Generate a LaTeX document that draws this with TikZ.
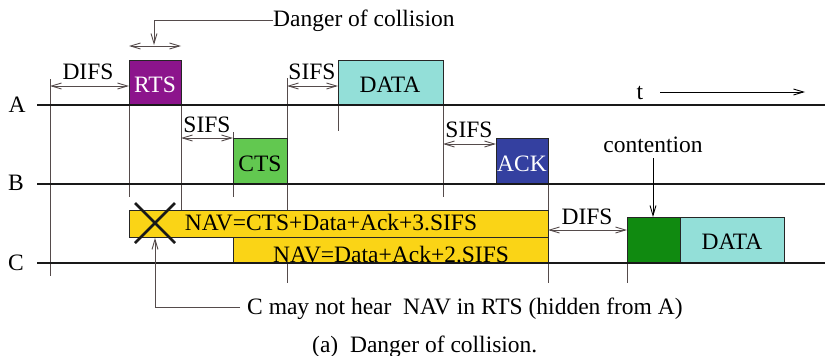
\documentclass[tikz,border=0pt]{standalone}
\usepackage{fontspec}
\setmainfont{Liberation Serif}
\usetikzlibrary{arrows.meta}
\definecolor{rtscol}{RGB}{140,20,140}
\definecolor{ctscol}{RGB}{98,200,80}
\definecolor{datacol}{RGB}{147,223,216}
\definecolor{ackcol}{RGB}{52,64,160}
\definecolor{navcol}{RGB}{250,212,22}
\definecolor{gcol}{RGB}{16,138,16}
\definecolor{vgrey}{RGB}{85,75,75}
\begin{document}
\begin{tikzpicture}[x=1pt,y=-1pt,
  every node/.style={font=\fontsize{23.5}{26}\selectfont, inner sep=0pt},
  box/.style={draw=black!85, line width=0.9pt, anchor=north west, inner sep=0pt},
  tline/.style={line width=2.6pt, draw=black!90},
  vl/.style={line width=1pt, draw=vgrey},
  dimarrow/.style={line width=0.9pt, draw=vgrey, {Straight Barb[length=10pt,width=6pt]}-{Straight Barb[length=10pt,width=6pt]}},
  onearrow/.style={line width=0.9pt, draw=vgrey, -{Straight Barb[length=10pt,width=6pt]}},
  lbl/.style={anchor=base}
]
\useasboundingbox (0,0) rectangle (825,356);

% vertical time markers
\draw[vl] (50,79) -- (50,276);
\draw[vl] (129,105) -- (129,197);
\draw[vl] (181,105) -- (181,210);
\draw[vl] (233,132) -- (233,197);
\draw[vl] (287,78) -- (287,283);
\draw[vl] (338,105) -- (338,131);
\draw[vl] (443,105) -- (443,197);
\draw[vl] (548,138) -- (548,283);
\draw[vl] (627,217) -- (627,283);

% boxes
\node[box, fill=rtscol, minimum width=52pt, minimum height=45pt] (rts) at (129,60) {};
\node[box, fill=datacol, minimum width=105pt, minimum height=45pt] (dataA) at (338,60) {};
\node[box, fill=ctscol, minimum width=54pt, minimum height=46pt] (cts) at (233,138) {};
\node[box, fill=ackcol, minimum width=52pt, minimum height=46pt] (ack) at (496,138) {};
\node[box, fill=navcol, minimum width=419pt, minimum height=27pt] (nav1) at (129,210) {};
\node[box, fill=navcol, minimum width=315pt, minimum height=26pt] (nav2) at (233,237) {};
\node[box, fill=gcol, minimum width=53pt, minimum height=46pt] (cont) at (627,217) {};
\node[box, fill=datacol, minimum width=104pt, minimum height=46pt] (dataC) at (680,217) {};

% station time lines
\draw[tline] (37,105) -- (825,105);
\draw[tline] (37,184) -- (825,184);
\draw[tline] (37,263) -- (825,263);

% station labels
\node[lbl] (la) at (17,112) {A};
\node[lbl] (lb) at (16,190) {B};
\node[lbl] (lc) at (16,270) {C};

% box texts
\node[lbl, text=white] (rtst) at (155,92) {RTS};
\node[lbl] (dataAt) at (390,92) {DATA};
\node[lbl] (ctst) at (260,171) {CTS};
\node[lbl, text=white] (ackt) at (522,171) {ACK};
\node[lbl] (nav1t) at (331,230) {NAV=CTS+Data+Ack+3.SIFS};
\node[lbl] (nav2t) at (391,262) {NAV=Data+Ack+2.SIFS};
\node[lbl] (dataCt) at (732,249) {DATA};

% interval arrows
\coordinate (d1a) at (50,86);  \coordinate (d1b) at (129,86);
\draw[dimarrow] (d1a) -- (d1b);
\node[lbl] (difsA) at (88,79) {DIFS};
\coordinate (s1a) at (287,86); \coordinate (s1b) at (338,86);
\draw[dimarrow] (s1a) -- (s1b);
\node[lbl] (sifsA) at (312,79) {SIFS};
\coordinate (s2a) at (181,138); \coordinate (s2b) at (233,138);
\draw[dimarrow] (s2a) -- (s2b);
\node[lbl] (sifsB) at (207,132) {SIFS};
\coordinate (s3a) at (443,144); \coordinate (s3b) at (496,144);
\draw[dimarrow] (s3a) -- (s3b);
\node[lbl] (sifsC) at (469,137) {SIFS};
\coordinate (d2a) at (548,230); \coordinate (d2b) at (627,230);
\draw[dimarrow] (d2a) -- (d2b);
\node[lbl] (difsC) at (587,224) {DIFS};

% danger of collision
\coordinate (dga) at (129,46); \coordinate (dgb) at (181,46);
\draw[dimarrow] (dga) -- (dgb);
\node[anchor=base west] (danger) at (273,27) {Danger of collision};
\draw[onearrow] (danger.west |- 0,20) -- (154,20) -- (154,45);

% time arrow
\node[lbl] (tt) at (640,99) {t};
\coordinate (ta) at (660,92); \coordinate (tb) at (805,92);
\draw[line width=0.9pt, -{Straight Barb[length=10pt,width=6pt]}] (ta) -- (tb);

% contention
\node[lbl] (contt) at (653,152) {contention};
\draw[line width=0.9pt, -{Straight Barb[length=10pt,width=6pt]}] (653,158) -- (cont.north -| 653,0);

% cross
\draw[line width=2.8pt, black!90] (135,203) -- (175,243) (175,203) -- (135,243);

% hidden note
\node[anchor=base west] (hid) at (247,314) {C may not hear\ \ NAV in RTS (hidden from A)};
\draw[onearrow] (240,307) -- (155,307) -- (nav1.south -| 155,0);

% caption
\node[anchor=base west] (cap) at (312,352) {(a)\ \ Danger of collision.};
\end{tikzpicture}
\end{document}
